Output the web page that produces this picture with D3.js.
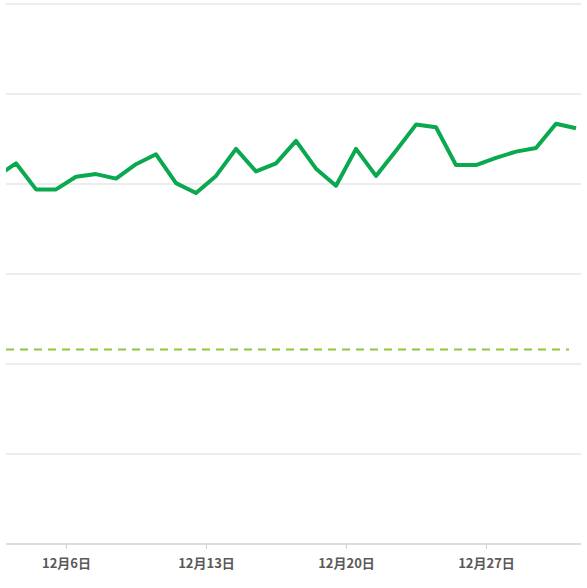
<!DOCTYPE html>
<html><head><meta charset="utf-8">
<script src="https://cdn.jsdelivr.net/npm/d3@7"></script>
<style>body{margin:0;background:#fff}</style></head>
<body><svg id="c" width="587" height="588"></svg>
<script>
const dates = ["2023-12-02T12:00","2023-12-03T12:00","2023-12-04T12:00","2023-12-05T12:00","2023-12-06T12:00","2023-12-07T12:00","2023-12-08T12:00","2023-12-09T12:00","2023-12-10T12:00","2023-12-11T12:00","2023-12-12T12:00","2023-12-13T12:00","2023-12-14T12:00","2023-12-15T12:00","2023-12-16T12:00","2023-12-17T12:00","2023-12-18T12:00","2023-12-19T12:00","2023-12-20T12:00","2023-12-21T12:00","2023-12-22T12:00","2023-12-23T12:00","2023-12-24T12:00","2023-12-25T12:00","2023-12-26T12:00","2023-12-27T12:00","2023-12-28T12:00","2023-12-29T12:00","2023-12-30T12:00","2023-12-31T12:00"];
const values = [40.8,42.3,39.4,39.4,40.8,41.1,40.6,42.2,43.3,40.1,39.0,40.9,43.9,41.4,42.3,44.8,41.7,39.8,43.9,40.9,43.7,46.6,46.3,42.1,42.1,42.9,43.6,44.0,46.7,46.2];
const target = 21.6;
const tickDates = ["2023-12-06","2023-12-13","2023-12-20","2023-12-27"];
const tickLabels = ["12月6日","12月13日","12月20日","12月27日"];
const yTicks = [0,10,20,30,40,50,60];

const svg = d3.select("#c");
const L=6, R=581, T=4, B=544;
const x = d3.scaleTime().domain([new Date("2023-12-06T00:00"), new Date("2023-12-27T00:00")]).range([66,486]);
const y = d3.scaleLinear().domain([0,60]).range([B,T]);
svg.append("defs").append("clipPath").attr("id","cp").append("rect").attr("x",L).attr("y",0).attr("width",R-L).attr("height",588);
svg.append("g").selectAll("line").data(yTicks.slice(1)).join("line")
  .attr("x1",L).attr("x2",R).attr("y1",d=>y(d)).attr("y2",d=>y(d)).attr("stroke","#d9d9d9").attr("stroke-width",1);
svg.append("line").attr("x1",L).attr("x2",R).attr("y1",B).attr("y2",B).attr("stroke","#d0d0d0").attr("stroke-width",1.5);
const ax = svg.append("g").attr("transform",`translate(0,${B})`)
  .call(d3.axisBottom(x).tickValues(tickDates.map(d=>new Date(d+"T00:00"))).tickFormat((d,i)=>tickLabels[i]).tickSize(5).tickPadding(10));
ax.select(".domain").remove();
ax.selectAll("line").attr("stroke","#d0d0d0");
ax.selectAll("text").attr("fill","#595959").attr("font-size",13).attr("font-weight","bold").attr("font-family","Noto Sans CJK SC");
const g = svg.append("g").attr("clip-path","url(#cp)");
g.append("line").attr("x1",L).attr("x2",R-12).attr("y1",y(target)).attr("y2",y(target))
  .attr("stroke","#8dc63f").attr("stroke-width",2).attr("stroke-dasharray","8,6");
const pts = dates.map((d,i)=>[new Date(d),values[i]]);
g.append("path").datum(pts).attr("fill","none").attr("stroke","#0aa84f").attr("stroke-width",4).attr("stroke-linejoin","round")
  .attr("d",d3.line().x(d=>x(d[0])).y(d=>y(d[1])));
</script></body></html>
